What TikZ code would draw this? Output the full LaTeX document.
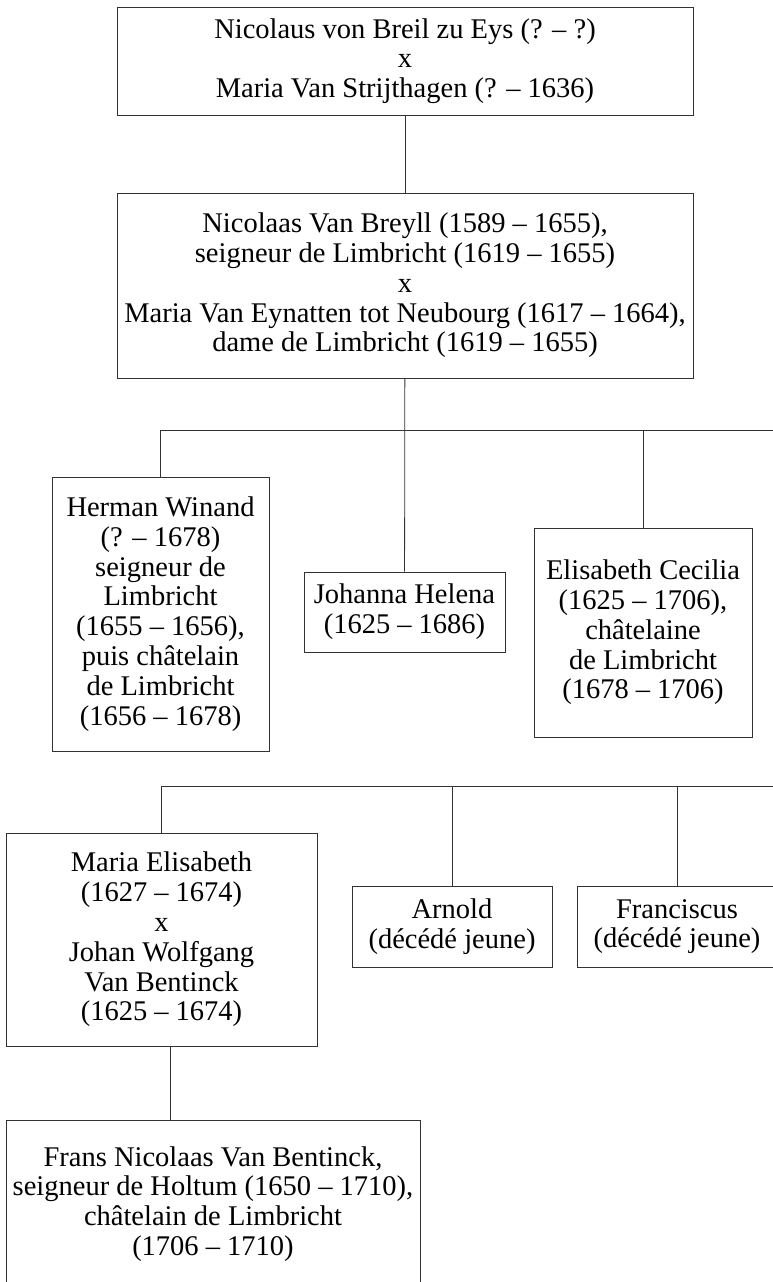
\documentclass[tikz,border=0pt]{standalone}
\usepackage{fontspec}
\setmainfont{Liberation Serif}

\tikzset{
    person/.style={draw=black!80,line width=0.8pt,align=center,inner sep=0pt,
        font=\fontsize{28.5}{29.8}\selectfont},
    link/.style={draw=black!80,line width=0.8pt}
}

\begin{document}
\begin{tikzpicture}[x=1pt,y=-1pt]
    \useasboundingbox (0,0) rectangle (772,1282);

    % first generations
    \node[person,minimum width=576,minimum height=108] (founders) at (405,61)
        {Nicolaus von Breil zu Eys (? -- ?)\\x\\Maria Van Strijthagen (? -- 1636)};
    \node[person,minimum width=576,minimum height=185] (parents) at (405,285.5)
        {Nicolaas Van Breyll (1589 -- 1655),\\seigneur de Limbricht (1619 -- 1655)\\x\\Maria Van Eynatten tot Neubourg (1617 -- 1664),\\dame de Limbricht (1619 -- 1655)};

    % children, first row
    \node[person,minimum width=217,minimum height=274] (herman) at (160.5,614)
        {Herman Winand\\(? -- 1678)\\seigneur de\\Limbricht\\(1655 -- 1656),\\puis châtelain\\de Limbricht\\(1656 -- 1678)};
    \node[person,minimum width=201,minimum height=80] (johanna) at (404.5,612)
        {Johanna Helena\\(1625 -- 1686)};
    \node[person,minimum width=218,minimum height=209] (elisabeth) at (643,632.5)
        {Elisabeth Cecilia\\(1625 -- 1706),\\châtelaine\\de Limbricht\\(1678 -- 1706)};
    \coordinate (bar1end) at (776,430);

    % children, second row
    \node[person,minimum width=311,minimum height=213] (mariaE) at (161.5,939.5)
        {Maria Elisabeth\\(1627 -- 1674)\\x\\Johan Wolfgang\\Van Bentinck\\(1625 -- 1674)};
    \node[person,minimum width=200,minimum height=81] (arnold) at (452,926.5)
        {Arnold\\(décédé jeune)};
    \node[person,minimum width=200,minimum height=81] (franciscus) at (677,926.5)
        {Franciscus\\(décédé jeune)};
    \coordinate (bar2end) at (776,786);

    % grandson
    \node[person,minimum width=414,minimum height=168] (frans) at (213,1204)
        {Frans Nicolaas Van Bentinck,\\seigneur de Holtum (1650 -- 1710),\\châtelain de Limbricht\\(1706 -- 1710)};

    \draw[link] (founders) -- (parents);
    \draw[link] (parents) -- (johanna);
    \draw[link] (herman.north) |- (bar1end);
    \draw[link] (elisabeth.north) -- (elisabeth.north |- bar1end);
    \draw[link] (mariaE.north) |- (bar2end);
    \draw[link] (arnold.north) -- (arnold.north |- bar2end);
    \draw[link] (franciscus.north) -- (franciscus.north |- bar2end);
    \draw[link] ([xshift=8.5pt]mariaE.south) -- ([xshift=8.5pt]mariaE.south |- frans.north);
\end{tikzpicture}
\end{document}
